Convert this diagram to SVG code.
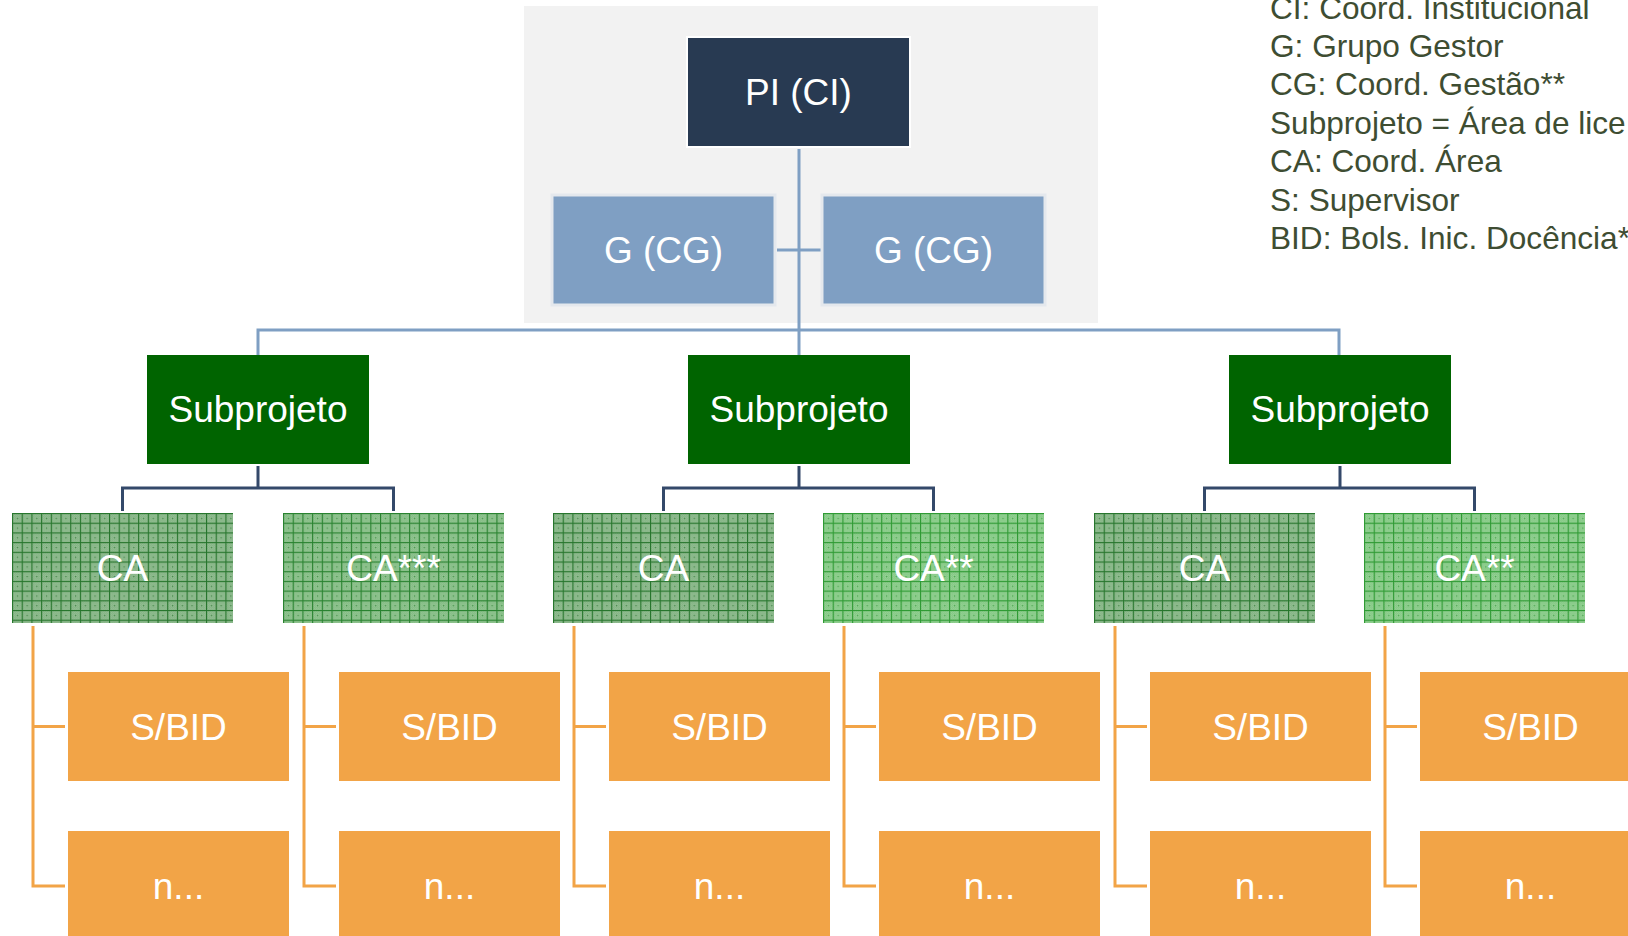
<svg xmlns="http://www.w3.org/2000/svg" width="1628" height="936" viewBox="0 0 1628 936">
  <style>
    .lbl { font-family: "Liberation Sans", Arial, sans-serif; font-size: 37px; fill: #ffffff; text-anchor: middle; }
    .leg { font-family: "Liberation Sans", Arial, sans-serif; font-size: 31.6px; fill: #3E4D32; }
    .pi { fill: #283A52; stroke: #ffffff; stroke-width: 2; }
    .g { fill: #7F9FC3; stroke: #E4E8ED; stroke-width: 3; }
    .sub { fill: #006400; }
    .org { fill: #F2A447; }
    .cb { stroke: #7F9FC3; stroke-width: 3; fill: none; }
    .cd { stroke: #34496A; stroke-width: 3; fill: none; }
    .co { stroke: #F2A447; stroke-width: 3; fill: none; }
  </style>
  <defs>
    <pattern id="dA" width="2" height="2" patternUnits="userSpaceOnUse">
      <rect width="2" height="2" fill="#80B180"/>
      <rect width="1" height="1" fill="#96C096"/>
      <rect x="1" y="1" width="1" height="1" fill="#96C096"/>
    </pattern>
    <pattern id="dB" width="2" height="2" patternUnits="userSpaceOnUse">
      <rect width="2" height="2" fill="#80C580"/>
      <rect width="1" height="1" fill="#98D498"/>
      <rect x="1" y="1" width="1" height="1" fill="#98D498"/>
    </pattern>
    <pattern id="dC" width="2" height="2" patternUnits="userSpaceOnUse">
      <rect width="2" height="2" fill="#80B980"/>
      <rect width="1" height="1" fill="#96C896"/>
      <rect x="1" y="1" width="1" height="1" fill="#96C896"/>
    </pattern>
    <pattern id="gA" width="9.7" height="9.7" patternUnits="userSpaceOnUse">
      <rect width="9.7" height="9.7" fill="url(#dA)"/>
      <rect x="0" y="0" width="9.7" height="1.1" fill="#26752C"/>
      <rect x="0" y="0" width="1.1" height="9.7" fill="#26752C"/>
      <rect x="5" y="5" width="1" height="1" fill="#26752C"/>
    </pattern>
    <pattern id="gB" width="9.7" height="9.7" patternUnits="userSpaceOnUse">
      <rect width="9.7" height="9.7" fill="url(#dB)"/>
      <rect x="0" y="0" width="9.7" height="1.1" fill="#2E9A33"/>
      <rect x="0" y="0" width="1.1" height="9.7" fill="#2E9A33"/>
      <rect x="5" y="5" width="1" height="1" fill="#2E9A33"/>
    </pattern>
    <pattern id="gC" width="9.7" height="9.7" patternUnits="userSpaceOnUse">
      <rect width="9.7" height="9.7" fill="url(#dC)"/>
      <rect x="0" y="0" width="9.7" height="1.1" fill="#28822F"/>
      <rect x="0" y="0" width="1.1" height="9.7" fill="#28822F"/>
      <rect x="5" y="5" width="1" height="1" fill="#28822F"/>
    </pattern>
  </defs>

  <rect id="background" x="0" y="0" width="1628" height="936" fill="#ffffff"/>
  <rect id="panel" x="524" y="6" width="574" height="317" fill="#F2F2F2"/>

  <g id="connectors">
    <path class="cb" d="M799 149 V355"/>
    <path class="cb" d="M777 250 H821"/>
    <path class="cb" d="M258 355 V330 H1339 V355"/>
    <path class="cd" d="M258 466 V488 M122.5 511 V488 H393.5 V511"/>
    <path class="cd" d="M799 466 V488 M663.5 511 V488 H933.5 V511"/>
    <path class="cd" d="M1340 466 V488 M1204.5 511 V488 H1474.5 V511"/>
    <path class="co" d="M33 626 V886 H65 M33 726.5 H65"/>
    <path class="co" d="M304 626 V886 H336 M304 726.5 H336"/>
    <path class="co" d="M574 626 V886 H606 M574 726.5 H606"/>
    <path class="co" d="M844 626 V886 H876 M844 726.5 H876"/>
    <path class="co" d="M1115 626 V886 H1147 M1115 726.5 H1147"/>
    <path class="co" d="M1385 626 V886 H1417 M1385 726.5 H1417"/>
  </g>

  <g id="node-pi">
    <rect class="pi" x="687" y="37" width="223" height="110"/>
    <text class="lbl" x="798.5" y="105">PI (CI)</text>
  </g>
  <g id="node-g1">
    <rect class="g" x="552" y="195" width="223" height="110"/>
    <text class="lbl" x="663.5" y="263">G (CG)</text>
  </g>
  <g id="node-g2">
    <rect class="g" x="822" y="195" width="223" height="110"/>
    <text class="lbl" x="933.5" y="263">G (CG)</text>
  </g>

  <g id="node-sub1">
    <rect class="sub" x="147" y="355" width="222" height="109"/>
    <text class="lbl" x="258" y="422">Subprojeto</text>
  </g>
  <g id="node-sub2">
    <rect class="sub" x="688" y="355" width="222" height="109"/>
    <text class="lbl" x="799" y="422">Subprojeto</text>
  </g>
  <g id="node-sub3">
    <rect class="sub" x="1229" y="355" width="222" height="109"/>
    <text class="lbl" x="1340" y="422">Subprojeto</text>
  </g>

  <g id="node-ca1" transform="translate(12 513)">
    <rect width="221" height="110" fill="url(#gA)"/>
    <text class="lbl" x="110.5" y="68">CA</text>
  </g>
  <g id="node-ca2" transform="translate(283 513)">
    <rect width="221" height="110" fill="url(#gC)"/>
    <text class="lbl" x="110.5" y="68">CA***</text>
  </g>
  <g id="node-ca3" transform="translate(553 513)">
    <rect width="221" height="110" fill="url(#gA)"/>
    <text class="lbl" x="110.5" y="68">CA</text>
  </g>
  <g id="node-ca4" transform="translate(823 513)">
    <rect width="221" height="110" fill="url(#gB)"/>
    <text class="lbl" x="110.5" y="68">CA**</text>
  </g>
  <g id="node-ca5" transform="translate(1094 513)">
    <rect width="221" height="110" fill="url(#gA)"/>
    <text class="lbl" x="110.5" y="68">CA</text>
  </g>
  <g id="node-ca6" transform="translate(1364 513)">
    <rect width="221" height="110" fill="url(#gB)"/>
    <text class="lbl" x="110.5" y="68">CA**</text>
  </g>

  <g id="node-sb1"><rect class="org" x="68" y="672" width="221" height="109"/><text class="lbl" x="178.5" y="740">S/BID</text></g>
  <g id="node-sb2"><rect class="org" x="339" y="672" width="221" height="109"/><text class="lbl" x="449.5" y="740">S/BID</text></g>
  <g id="node-sb3"><rect class="org" x="609" y="672" width="221" height="109"/><text class="lbl" x="719.5" y="740">S/BID</text></g>
  <g id="node-sb4"><rect class="org" x="879" y="672" width="221" height="109"/><text class="lbl" x="989.5" y="740">S/BID</text></g>
  <g id="node-sb5"><rect class="org" x="1150" y="672" width="221" height="109"/><text class="lbl" x="1260.5" y="740">S/BID</text></g>
  <g id="node-sb6"><rect class="org" x="1420" y="672" width="221" height="109"/><text class="lbl" x="1530.5" y="740">S/BID</text></g>

  <g id="node-n1"><rect class="org" x="68" y="831" width="221" height="109"/><text class="lbl" x="178.5" y="899">n...</text></g>
  <g id="node-n2"><rect class="org" x="339" y="831" width="221" height="109"/><text class="lbl" x="449.5" y="899">n...</text></g>
  <g id="node-n3"><rect class="org" x="609" y="831" width="221" height="109"/><text class="lbl" x="719.5" y="899">n...</text></g>
  <g id="node-n4"><rect class="org" x="879" y="831" width="221" height="109"/><text class="lbl" x="989.5" y="899">n...</text></g>
  <g id="node-n5"><rect class="org" x="1150" y="831" width="221" height="109"/><text class="lbl" x="1260.5" y="899">n...</text></g>
  <g id="node-n6"><rect class="org" x="1420" y="831" width="221" height="109"/><text class="lbl" x="1530.5" y="899">n...</text></g>

  <g id="legend">
    <text class="leg" x="1270" y="19">CI: Coord. Institucional</text>
    <text class="leg" x="1270" y="57">G: Grupo Gestor</text>
    <text class="leg" x="1270" y="95">CG: Coord. Gestão**</text>
    <text class="leg" x="1270" y="134">Subprojeto = Área de lice</text>
    <text class="leg" x="1270" y="172">CA: Coord. Área</text>
    <text class="leg" x="1270" y="211">S: Supervisor</text>
    <text class="leg" x="1270" y="249">BID: Bols. Inic. Docência*</text>
  </g>
</svg>
